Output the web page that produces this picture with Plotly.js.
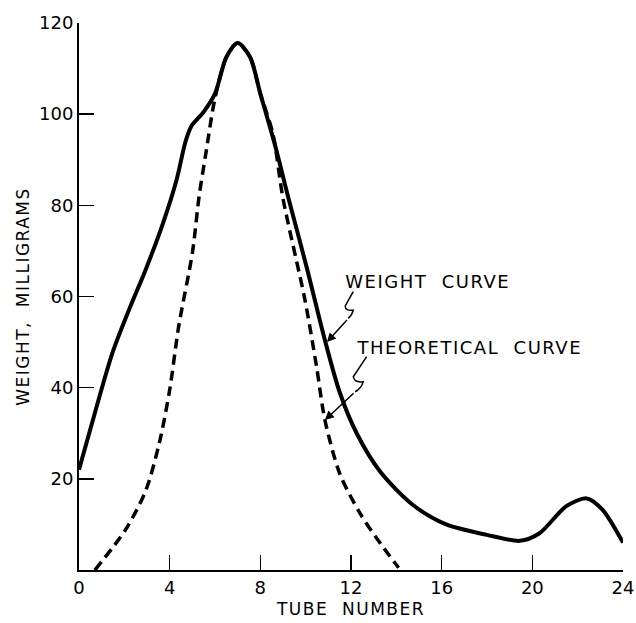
<!DOCTYPE html>
<html>
<head>
<meta charset="utf-8">
<script src="https://cdn.plot.ly/plotly-3.0.1.min.js"></script>
<style>
html,body{margin:0;padding:0;background:#fff;}
#chart{width:636px;height:623px;}
.plotly .annotation-text, .plotly .xtitle, .plotly .ytitle { letter-spacing: 1.5px; }
</style>
</head>
<body>
<div id="chart"></div>
<script>
// Weight curve (solid)
const weightX = [0, 0.9, 1.5, 2.2, 2.95, 3.7, 4.3, 4.7, 4.95, 5.5, 6.0, 6.5, 7.0, 7.55, 8.0, 8.67, 9.27, 10.04, 10.85, 11.5, 12.25, 13.3, 14.75, 16.2, 18.0, 19.45, 20.3, 21.5, 22.4, 23.1, 24];
const weightY = [22, 38, 48, 57, 66, 76, 85.5, 94, 97.3, 100.5, 104.5, 112.5, 115.6, 112.5, 104.5, 92.8, 81, 66.5, 50.4, 39, 30, 21.5, 14.2, 10, 7.7, 6.4, 8, 14, 15.7, 13.2, 6];

// Theoretical curve (dashed)
const theoX = [0.7, 2.05, 2.95, 3.55, 4.0, 4.4, 5.0, 5.3, 5.6, 6.0, 6.5, 7.0, 7.55, 8.0, 8.55, 9.0, 9.97, 10.48, 10.85, 11.5, 12.4, 13.3, 14.1];
const theoY = [0, 8.8, 17.5, 28, 39.5, 53.5, 69.5, 82, 91.5, 103.5, 112.5, 115.6, 112.5, 104.5, 95.8, 81.5, 59.2, 44.6, 32.9, 21.2, 12.4, 5.8, 0.5];

const xTicks = [0, 4, 8, 12, 16, 20, 24];
const yTicks = [20, 40, 60, 80, 100, 120];

const labelWeight = "WEIGHT&nbsp;&nbsp;CURVE";
const labelTheo = "THEORETICAL&nbsp;&nbsp;CURVE";

const FONT = "DejaVu Sans, Arial, sans-serif";

const traces = [
  {x: theoX, y: theoY, type: 'scatter', mode: 'lines',
   line: {color: '#000', width: 3.5, dash: '10px,6px', shape: 'spline', smoothing: 0.8},
   hoverinfo: 'skip', showlegend: false},
  {x: weightX, y: weightY, type: 'scatter', mode: 'lines',
   line: {color: '#000', width: 4, shape: 'spline', smoothing: 0.8},
   hoverinfo: 'skip', showlegend: false}
];

const layout = {
  width: 636, height: 623,
  margin: {l: 79, r: 13, t: 23, b: 53},
  paper_bgcolor: '#fff', plot_bgcolor: '#fff',
  font: {family: FONT, color: '#000'},
  showlegend: false,
  xaxis: {
    range: [0, 24], tickvals: xTicks, ticktext: xTicks.map(String),
    showgrid: false, zeroline: false, showline: true, linecolor: '#000', linewidth: 2,
    ticks: 'inside', ticklen: 15, tickwidth: 1.5, tickcolor: '#000',
    tickfont: {family: FONT, size: 18, color: '#000'},
    title: {text: 'TUBE&nbsp;&nbsp;NUMBER', font: {family: FONT, size: 17, color: '#000'}, standoff: 7}
  },
  yaxis: {
    range: [0, 120], tickvals: yTicks, ticktext: yTicks.map(String),
    showgrid: false, zeroline: false, showline: true, linecolor: '#000', linewidth: 2,
    ticks: 'inside', ticklen: 15, tickwidth: 1.5, tickcolor: '#000',
    tickfont: {family: FONT, size: 18, color: '#000'},
    title: {text: 'WEIGHT,&nbsp;&nbsp;MILLIGRAMS', font: {family: FONT, size: 17, color: '#000'}, standoff: 5}
  },
  annotations: [
    {x: 12.1, y: 63.4, xref: 'x', yref: 'y', text: labelWeight, showarrow: false,
     xanchor: 'left', yanchor: 'middle', font: {family: FONT, size: 18, color: '#000'}},
    {x: 12.75, y: 48.9, xref: 'x', yref: 'y', text: labelTheo, showarrow: false,
     xanchor: 'left', yanchor: 'middle', font: {family: FONT, size: 18, color: '#000'}},
    {x: 10.94, y: 50.0, ax: 11.88, ay: 55.2, xref: 'x', yref: 'y', axref: 'x', ayref: 'y',
     text: '', showarrow: true, arrowhead: 2, arrowsize: 1.2, arrowwidth: 1.5, arrowcolor: '#000'},
    {x: 10.85, y: 32.9, ax: 12.18, ay: 39.1, xref: 'x', yref: 'y', axref: 'x', ayref: 'y',
     text: '', showarrow: true, arrowhead: 2, arrowsize: 1.2, arrowwidth: 1.5, arrowcolor: '#000'}
  ],
  shapes: [
    {type: 'path', xref: 'x', yref: 'y',
     path: 'M12.10,61.05 L11.74,57.9 Q11.75,56.8 12.10,57.0 Q12.05,55.9 11.88,55.2',
     line: {color: '#000', width: 1.5}},
    {type: 'path', xref: 'x', yref: 'y',
     path: 'M12.69,46.8 L12.10,42.4 Q12.15,41.0 12.54,41.3 Q12.45,39.8 12.18,39.1',
     line: {color: '#000', width: 1.5}}
  ]
};

Plotly.newPlot('chart', traces, layout, {staticPlot: true, displayModeBar: false});
</script>
</body>
</html>
